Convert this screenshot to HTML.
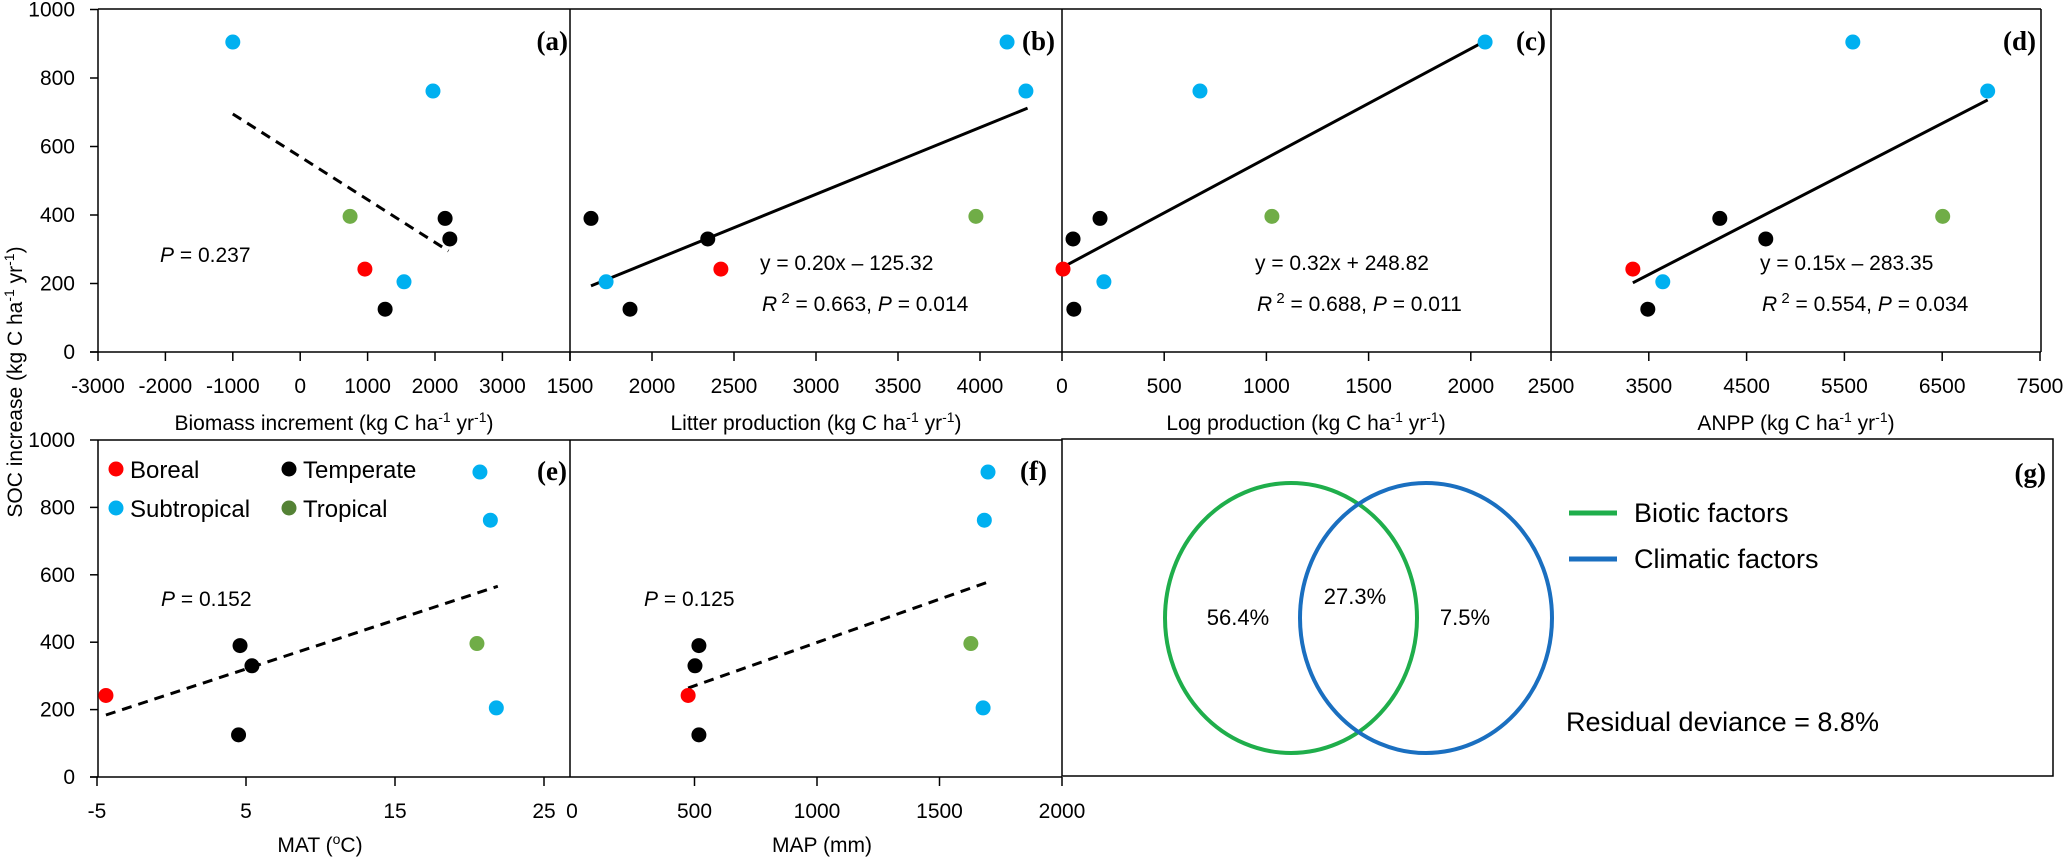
<!DOCTYPE html>
<html><head><meta charset="utf-8"><style>
html,body{margin:0;padding:0;background:#fff;}
svg{display:block;font-family:"Liberation Sans",sans-serif;}
.lab{font-family:"Liberation Serif",serif;font-weight:bold;font-size:27px;}
</style></head><body>
<svg id="fig" width="2067" height="858" viewBox="0 0 2067 858" xmlns="http://www.w3.org/2000/svg"></svg>
<script>
// ---- data ----
const socValues = [905, 762, 396, 390, 330, 242, 205, 125];
const climateZones = ['sub', 'sub', 'trop', 'temp', 'temp', 'bor', 'sub', 'temp'];
const xBiomass = [-1000, 1970, 740, 2150, 2220, 960, 1540, 1260];
const xLitter = [4165, 4280, 3975, 1628, 2340, 2420, 1720, 1866];
const xLog = [2070, 675, 1027, 186, 54, 5, 205, 58];
const xAnpp = [5586, 6965, 6505, 4226, 4696, 3337, 3643, 3490];
const xMat = [20.7, 21.4, 20.5, 4.6, 5.4, -4.4, 21.8, 4.5];
const xMap = [1698, 1683, 1628, 518, 502, 474, 1678, 518];
const trendAx = [-1000, 2200], trendAy = [695, 295];
const trendBx = [1628, 4290], trendBy = [193, 712];
const trendCx = [5, 2070], trendCy = [248, 908];
const trendDx = [3337, 6965], trendDy = [202, 736];
const trendEx = [-4.4, 21.9], trendEy = [184, 566];
const trendFx = [474, 1696], trendFy = [264, 578];
const yTicks = [0, 200, 400, 600, 800, 1000];
const ticksA = [-3000, -2000, -1000, 0, 1000, 2000, 3000];
const ticksB = [1500, 2000, 2500, 3000, 3500, 4000];
const ticksC = [0, 500, 1000, 1500, 2000];
const ticksD = [3500, 4500, 5500, 6500, 7500];
const ticksE = [-5, 5, 15, 25];
const ticksF = [500, 1000, 1500, 2000];
const vennShares = ['56.4%', '27.3%', '7.5%'];

const zoneColor = {bor:'#ff0000', temp:'#000000', sub:'#00b0f0', trop:'#70ad47'};
const NS = 'http://www.w3.org/2000/svg';
const svg = document.getElementById('fig');
function mk(tag, attrs, parent){ const e=document.createElementNS(NS,tag); for(const k in attrs) e.setAttribute(k,attrs[k]); (parent||svg).appendChild(e); return e; }

// axis functions
const yTop = v => 352 - v*0.3425;
const yBot = v => 777 - v*0.337;
const xa = v => 98 + (v+3000)*0.0674;
const xb = v => 570 + (v-1500)*0.164;
const xc = v => 1062 + v*0.2044;
const xd = v => 1551 + (v-2500)*0.0978;
const xe = v => 97 + (v+5)*14.9;
const xf = v => 572 + v*0.245;

function line(x1,y1,x2,y2,w,dash){ const l=mk('line',{x1,y1,x2,y2,stroke:'#000','stroke-width':w||1.5}); if(dash) l.setAttribute('stroke-dasharray',dash); return l; }
function text(x,y,s,opts){ const t=mk('text',Object.assign({x,y,'font-size':21,fill:'#000'},opts||{})); t.textContent=s; return t; }

// frames
let f;
f=line(98,9,2041,9,1.5);  
[98,570,1062,1551,2041].forEach(x=>{ const l=line(x,9,x,352,1.5);
   });
f=line(90,352,2041,352,1.5);  
f=line(98,440,1062,440,1.5);  
[98,570].forEach(x=>{ const l=line(x,440,x,777,1.5);
   });
f=line(90,777,1062,777,1.5);  

// y ticks
yTicks.forEach(v=>{
  let t=line(90,yTop(v),98,yTop(v),1.5);  
  let l=text(75,yTop(v)+7,String(v),{'text-anchor':'end'});  
  t=line(90,yBot(v),98,yBot(v),1.5);  
  l=text(75,yBot(v)+7,String(v),{'text-anchor':'end'});  
});
let yt=text(0,0,'',{'text-anchor':'middle',transform:'translate(22,382) rotate(-90)'});
 
yt.innerHTML='SOC increase (kg C ha<tspan dy="-8" font-size="14">-1</tspan><tspan dy="8"> yr</tspan><tspan dy="-8" font-size="14">-1</tspan><tspan dy="8">)</tspan>';

function xTicks(ticks,fx,axisY,labels){
  ticks.forEach((v,i)=>{
    const t=line(fx(v),axisY,fx(v),axisY+9,1.5);  
    const l=text(fx(v),axisY+41,labels?labels[i]:String(v),{'text-anchor':'middle'});  
  });
}
xTicks(ticksA,xa,352); xTicks(ticksB,xb,352); xTicks(ticksC,xc,352); xTicks(ticksD,xd,352);
xTicks(ticksE,xe,777); xTicks(ticksF,xf,777);
let et=line(xc(2500*0.957),352,xc(2500*0.957),361,1.5);  
let el=text(1551,393,'2500',{'text-anchor':'middle'});  
let e0=text(xf(0),818,'0',{'text-anchor':'middle'});  
let e4=line(570,352,570,361,1.5);  

function xTitle(cx,y,main,sup){
  const t=text(cx,y,'',{'text-anchor':'middle'});
  if(sup) t.innerHTML=main+' (kg C ha<tspan dy="-8" font-size="14">-1</tspan><tspan dy="8"> yr</tspan><tspan dy="-8" font-size="14">-1</tspan><tspan dy="8">)</tspan>';
  else t.innerHTML=main;
  return t;
}
let xt;
xt=xTitle(334,430,'Biomass increment',1);  
xt=xTitle(816,430,'Litter production',1);  
xt=xTitle(1306,430,'Log production',1);  
xt=xTitle(1796,430,'ANPP',1);  
xt=xTitle(320,852,'MAT (<tspan dy="-8" font-size="14">o</tspan><tspan dy="8">C)</tspan>',0);  
xt=xTitle(822,852,'MAP (mm)',0);  

function points(xs,fx,fy,name){
  xs.forEach((v,i)=>{
    const c=mk('circle',{cx:fx(v),cy:fy(socValues[i]),r:7.5,fill:zoneColor[climateZones[i]]});
    
    
  });
}
function trend(tx,ty,fx,fy,dash,name){
  const l=line(fx(tx[0]),fy(ty[0]),fx(tx[1]),fy(ty[1]),3,dash?'10 7':null);
  
  
}
trend(trendAx,trendAy,xa,yTop,1,'trend-line-a');
trend(trendBx,trendBy,xb,yTop,0,'trend-line-b');
trend(trendCx,trendCy,xc,yTop,0,'trend-line-c');
trend(trendDx,trendDy,xd,yTop,0,'trend-line-d');
trend(trendEx,trendEy,xe,yBot,1,'trend-line-e');
trend(trendFx,trendFy,xf,yBot,1,'trend-line-f');
points(xBiomass,xa,yTop,'biomass'); points(xLitter,xb,yTop,'litter'); points(xLog,xc,yTop,'log');
points(xAnpp,xd,yTop,'anpp'); points(xMat,xe,yBot,'mat'); points(xMap,xf,yBot,'map');

// panel labels
[['(a)',568,50],['(b)',1055,50],['(c)',1546,50],['(d)',2036,50],['(e)',567,480],['(f)',1047,480],['(g)',2046,482]].forEach(p=>{
  const t=text(p[1],p[2],p[0],{'text-anchor':'end',class:'lab'});
  
  
});
// stats
function stat(x,y,html,name){ const t=text(x,y,'',{}); t.innerHTML=html;   }
stat(160,262,'<tspan font-style="italic">P</tspan> = 0.237','stat-a');
stat(760,270,'y = 0.20x – 125.32','equation-b');
stat(762,311,'<tspan font-style="italic">R</tspan><tspan dy="-8" font-size="15"> 2</tspan><tspan dy="8"> = 0.663, </tspan><tspan font-style="italic">P</tspan> = 0.014','stats-b');
stat(1255,270,'y = 0.32x + 248.82','equation-c');
stat(1257,311,'<tspan font-style="italic">R</tspan><tspan dy="-8" font-size="15"> 2</tspan><tspan dy="8"> = 0.688, </tspan><tspan font-style="italic">P</tspan> = 0.011','stats-c');
stat(1760,270,'y = 0.15x – 283.35','equation-d');
stat(1762,311,'<tspan font-style="italic">R</tspan><tspan dy="-8" font-size="15"> 2</tspan><tspan dy="8"> = 0.554, </tspan><tspan font-style="italic">P</tspan> = 0.034','stats-d');
stat(161,606,'<tspan font-style="italic">P</tspan> = 0.152','stat-e');
stat(644,606,'<tspan font-style="italic">P</tspan> = 0.125','stat-f');

// legend (panel e)
[['bor','Boreal',116,469],['temp','Temperate',289,469],['sub','Subtropical',116,508],['trop','Tropical',289,508]].forEach(e=>{
  const c=mk('circle',{cx:e[2],cy:e[3],r:7.5,fill:e[0]==='trop'?'#548235':zoneColor[e[0]]});
  
  
  const t=text(e[2]+14,e[3]+9,e[1],{'font-size':24});
  
  
});

// panel g venn
let box=mk('rect',{x:1062,y:439,width:991,height:337,fill:'none',stroke:'#000','stroke-width':1.5});
 
let g1=mk('ellipse',{cx:1291,cy:618,rx:126,ry:135,fill:'none',stroke:'#1fae4b','stroke-width':4});
 
let g2=mk('ellipse',{cx:1426,cy:618,rx:126,ry:135,fill:'none',stroke:'#1a6fc0','stroke-width':4});
 
[[1238,625],[1355,604],[1465,625]].forEach((p,i)=>{
  const t=text(p[0],p[1],vennShares[i],{'text-anchor':'middle','font-size':22});
  
  
});
let lg1=mk('line',{x1:1569,y1:513,x2:1617,y2:513,stroke:'#1fae4b','stroke-width':5});
 
let lg2=mk('line',{x1:1569,y1:559,x2:1617,y2:559,stroke:'#1a6fc0','stroke-width':5});
 
let lt1=text(1634,522,'Biotic factors',{'font-size':27});  
let lt2=text(1634,568,'Climatic factors',{'font-size':27});  
let rd=text(1566,731,'Residual deviance = 8.8%',{'font-size':27});  
</script>
</body></html>
